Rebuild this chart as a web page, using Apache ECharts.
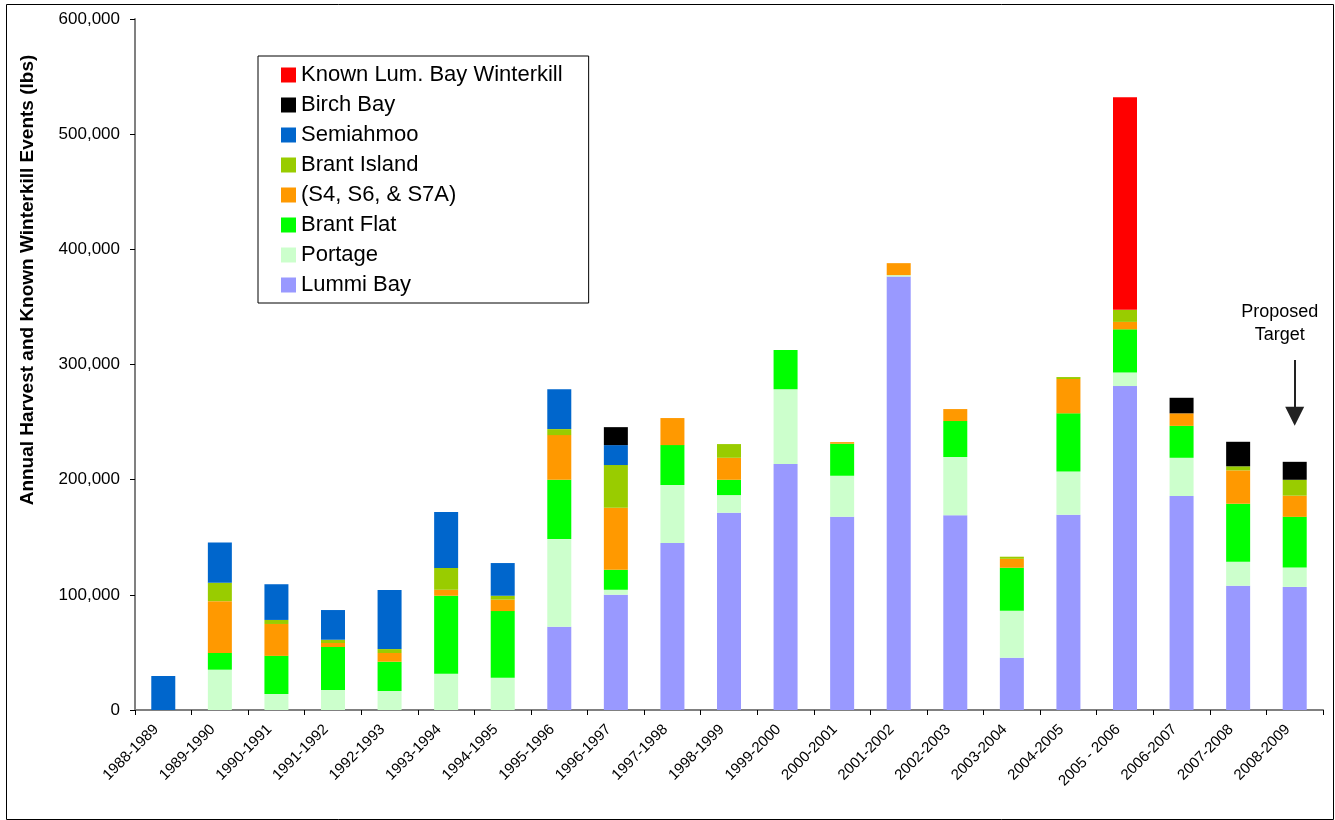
<!DOCTYPE html>
<html>
<head>
<meta charset="utf-8">
<title>Annual Harvest and Known Winterkill Events</title>
<script src="https://cdn.jsdelivr.net/npm/echarts/dist/echarts.min.js"></script>
<style>
  html, body { margin: 0; padding: 0; background: #fff; }
  #main { width: 1335px; height: 820px; }
</style>
</head>
<body>
<div id="main"></div>
<script>
// 年度 (x轴)
var seasons = ['1988-1989', '1989-1990', '1990-1991', '1991-1992', '1992-1993', '1993-1994',
  '1994-1995', '1995-1996', '1996-1997', '1997-1998', '1998-1999', '1999-2000', '2000-2001',
  '2001-2002', '2002-2003', '2003-2004', '2004-2005', '2005 - 2006', '2006-2007', '2007-2008',
  '2008-2009'];

// 每个区域的捕获量 (lbs), 从下往上堆叠
var lummiBay     = [0, 0, 0, 0, 0, 0, 0, 72300, 100100, 145000, 171300, 213500, 167800, 376400, 169000, 45400, 169500, 281300, 185800, 107900, 106900];
var portage      = [0, 35000, 14000, 17400, 16500, 31500, 28000, 76100, 4300, 50300, 15300, 65100, 35600, 1200, 50600, 40800, 37500, 11700, 33200, 20900, 16900];
var brantFlat    = [0, 14500, 33000, 37300, 25400, 67700, 57900, 51500, 17400, 34700, 13300, 33900, 27800, 0, 31300, 37300, 50600, 37500, 27700, 50300, 43900];
var s4s6s7a      = [0, 45000, 27700, 3500, 7600, 5200, 9900, 38800, 53800, 23500, 19100, 0, 1400, 10400, 10400, 7800, 29800, 6500, 10900, 29000, 18400];
var brantIsland  = [0, 16000, 3500, 2800, 3400, 18900, 3400, 5200, 37100, 0, 11900, 0, 0, 0, 0, 1800, 1700, 10500, 0, 3500, 13800];
var semiahmoo    = [29500, 35000, 31000, 25800, 51300, 48600, 28400, 34700, 17300, 0, 0, 0, 0, 0, 0, 0, 0, 0, 0, 0, 0];
var birchBay     = [0, 0, 0, 0, 0, 0, 0, 0, 15600, 0, 0, 0, 0, 0, 0, 0, 0, 0, 13500, 21300, 15600];
var winterkill   = [0, 0, 0, 0, 0, 0, 0, 0, 0, 0, 0, 0, 0, 0, 0, 0, 0, 184500, 0, 0, 0];

// y轴刻度
var yMin = 0, yMax = 600000, yStep = 100000;

// Proposed Target 箭头 (起点/终点的值)
var targetSeason = '2008-2009';
var arrowFrom = 304000;
var arrowTo = 255000;

var font = "'Liberation Sans', Arial, sans-serif";

var seriesDefs = [
  { name: 'Lummi Bay', data: lummiBay, color: '#9999FF' },
  { name: 'Portage', data: portage, color: '#CCFFCC' },
  { name: 'Brant Flat', data: brantFlat, color: '#00FF00' },
  { name: '(S4, S6, & S7A)', data: s4s6s7a, color: '#FF9900' },
  { name: 'Brant Island', data: brantIsland, color: '#99CC00' },
  { name: 'Semiahmoo', data: semiahmoo, color: '#0066CC' },
  { name: 'Birch Bay', data: birchBay, color: '#000000' },
  { name: 'Known Lum. Bay Winterkill', data: winterkill, color: '#FF0000' }
];

var series = [];
var legendNames = [];
for (var k = 0; k < seriesDefs.length; k++) {
  var s = {
    name: seriesDefs[k].name,
    type: 'bar',
    stack: 'total',
    barWidth: 24,
    data: seriesDefs[k].data,
    itemStyle: { color: seriesDefs[k].color },
    emphasis: { disabled: true }
  };
  if (seriesDefs[k].name === 'Birch Bay') {
    // 箭头
    s.markLine = {
      silent: true,
      symbol: ['none', 'triangle'],
      symbolSize: 19,
      lineStyle: { color: '#222', width: 2, type: 'solid' },
      label: { show: false },
      data: [[{ coord: [targetSeason, arrowFrom] }, { coord: [targetSeason, arrowTo] }]]
    };
  }
  series.push(s);
  legendNames.unshift(seriesDefs[k].name);
}

var myChart = echarts.init(document.getElementById('main'));
var option = {
  animation: false,
  textStyle: { fontFamily: font },
  grid: { left: 135, right: 12, top: 19, bottom: 110 },
  legend: {
    orient: 'vertical',
    left: 258,
    top: 56,
    padding: [8, 26, 7, 23],
    itemWidth: 15,
    itemHeight: 15,
    itemGap: 8,
    icon: 'rect',
    borderColor: '#000',
    borderWidth: 1,
    backgroundColor: '#fff',
    selectedMode: false,
    textStyle: { fontFamily: font, fontSize: 22, lineHeight: 22, color: '#000' },
    data: legendNames
  },
  xAxis: {
    type: 'category',
    data: seasons,
    boundaryGap: true,
    axisLine: { lineStyle: { color: '#808080', width: 2 } },
    axisTick: { show: true, length: 5, lineStyle: { color: '#000' } },
    axisLabel: {
      interval: 0,
      rotate: 45,
      margin: 10,
      padding: [0, 10, 0, 0],
      fontFamily: font,
      fontSize: 15,
      color: '#000'
    }
  },
  yAxis: {
    type: 'value',
    min: yMin,
    max: yMax,
    interval: yStep,
    splitLine: { show: false },
    axisLine: { show: true, lineStyle: { color: '#808080', width: 2 } },
    axisTick: { show: true, length: 5, lineStyle: { color: '#000' } },
    axisLabel: {
      margin: 15,
      fontFamily: font,
      fontSize: 17,
      color: '#000',
      formatter: function (value) {
        return value.toLocaleString('en-US');
      }
    }
  },
  series: series
};
myChart.setOption(option);

// 外框, y轴标题, Proposed Target 文字
var tp = myChart.convertToPixel({ gridIndex: 0 }, [targetSeason, arrowFrom]);
myChart.setOption({
  graphic: [
    {
      type: 'rect',
      silent: true,
      shape: { x: 6.5, y: 4.5, width: 1327, height: 815 },
      style: { fill: 'none', stroke: '#000', lineWidth: 1 }
    },
    {
      type: 'text',
      silent: true,
      x: 28,
      y: 280,
      rotation: Math.PI / 2,
      style: {
        text: 'Annual Harvest and Known Winterkill Events (lbs)',
        fontFamily: font,
        fontSize: 19,
        fontWeight: 'bold',
        fill: '#000',
        align: 'center',
        verticalAlign: 'middle'
      }
    },
    {
      type: 'text',
      silent: true,
      x: tp[0] - 15,
      y: tp[1] - 59,
      style: {
        text: 'Proposed\nTarget',
        fontFamily: font,
        fontSize: 18,
        lineHeight: 23,
        fill: '#000',
        align: 'center',
        verticalAlign: 'top'
      }
    }
  ]
});
</script>
</body>
</html>
